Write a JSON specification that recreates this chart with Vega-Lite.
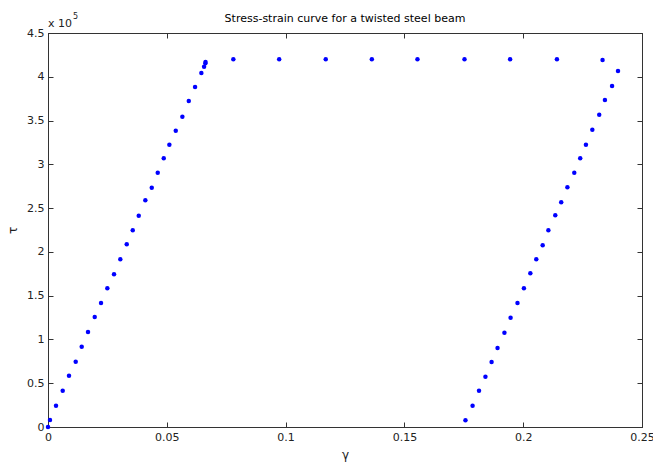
{
  "$schema": "https://vega.github.io/schema/vega-lite/v6.json",
  "width": 594,
  "height": 394,
  "autosize": {"type": "none"},
  "padding": {"left": 48, "top": 33, "right": 11, "bottom": 40},
  "background": "white",
  "config": {
    "font": "DejaVu Sans",
    "view": {"stroke": "#333333", "strokeWidth": 1},
    "axis": {"grid": false, "domainColor": "#333333", "tickColor": "#333333", "labelColor": "#222222", "titleColor": "#222222", "labelFontSize": 11, "titleFontSize": 12, "titleFontWeight": "normal", "labelFont": "DejaVu Sans", "titleFont": "DejaVu Sans"}
  },
  "title": {"text": "Stress-strain curve for a twisted steel beam", "fontSize": 11, "fontWeight": "normal", "font": "DejaVu Sans", "color": "black", "offset": -11, "anchor": "middle"},
  "data": {"values": [
    {"gamma": 0.0, "tau": 0},
    {"gamma": 0.00084, "tau": 8000},
    {"gamma": 0.00337, "tau": 24300},
    {"gamma": 0.00619, "tau": 41500},
    {"gamma": 0.00884, "tau": 58600},
    {"gamma": 0.01166, "tau": 74600},
    {"gamma": 0.01419, "tau": 91700},
    {"gamma": 0.01684, "tau": 108500},
    {"gamma": 0.01966, "tau": 125600},
    {"gamma": 0.02232, "tau": 141600},
    {"gamma": 0.02497, "tau": 158400},
    {"gamma": 0.02779, "tau": 174400},
    {"gamma": 0.03044, "tau": 191500},
    {"gamma": 0.03314, "tau": 208700},
    {"gamma": 0.03567, "tau": 224700},
    {"gamma": 0.03819, "tau": 241300},
    {"gamma": 0.04097, "tau": 258900},
    {"gamma": 0.04367, "tau": 273300},
    {"gamma": 0.04619, "tau": 290500},
    {"gamma": 0.04872, "tau": 306900},
    {"gamma": 0.05108, "tau": 322400},
    {"gamma": 0.05377, "tau": 338400},
    {"gamma": 0.05655, "tau": 354400},
    {"gamma": 0.05925, "tau": 372300},
    {"gamma": 0.0619, "tau": 388300},
    {"gamma": 0.06455, "tau": 404300},
    {"gamma": 0.06569, "tau": 411500},
    {"gamma": 0.06624, "tau": 415400},
    {"gamma": 0.0663, "tau": 417000},
    {"gamma": 0.078, "tau": 420000},
    {"gamma": 0.0973, "tau": 420000},
    {"gamma": 0.1169, "tau": 420000},
    {"gamma": 0.1363, "tau": 420000},
    {"gamma": 0.1555, "tau": 420000},
    {"gamma": 0.1753, "tau": 420000},
    {"gamma": 0.1945, "tau": 420000},
    {"gamma": 0.2142, "tau": 420000},
    {"gamma": 0.2334, "tau": 419100},
    {"gamma": 0.2399, "tau": 406600},
    {"gamma": 0.2374, "tau": 389500},
    {"gamma": 0.2344, "tau": 373500},
    {"gamma": 0.232, "tau": 356700},
    {"gamma": 0.2291, "tau": 339600},
    {"gamma": 0.2264, "tau": 322400},
    {"gamma": 0.224, "tau": 306900},
    {"gamma": 0.2215, "tau": 290500},
    {"gamma": 0.2186, "tau": 273800},
    {"gamma": 0.216, "tau": 256600},
    {"gamma": 0.2135, "tau": 241800},
    {"gamma": 0.2106, "tau": 224700},
    {"gamma": 0.2082, "tau": 207500},
    {"gamma": 0.2055, "tau": 191500},
    {"gamma": 0.203, "tau": 175500},
    {"gamma": 0.2003, "tau": 158400},
    {"gamma": 0.1976, "tau": 141600},
    {"gamma": 0.1947, "tau": 124800},
    {"gamma": 0.1921, "tau": 107700},
    {"gamma": 0.1892, "tau": 90200},
    {"gamma": 0.1867, "tau": 74200},
    {"gamma": 0.1841, "tau": 57400},
    {"gamma": 0.1814, "tau": 41500},
    {"gamma": 0.1787, "tau": 24300},
    {"gamma": 0.1757, "tau": 7600}
  ]},
  "layer": [
    {
      "mark": {"type": "point", "filled": true, "shape": "circle", "size": 20, "color": "#0000FF", "opacity": 1},
      "encoding": {
        "x": {"field": "gamma", "type": "quantitative", "scale": {"domain": [0, 0.25], "nice": false, "zero": false},
              "axis": {"orient": "bottom", "values": [0, 0.05, 0.1, 0.15, 0.2, 0.25], "format": "~g", "tickSize": -5, "labelPadding": 9, "title": "γ", "titlePadding": 7, "labelFlush": false}},
        "y": {"field": "tau", "type": "quantitative", "scale": {"domain": [0, 450000], "nice": false, "zero": false},
              "axis": {"orient": "left", "values": [0, 50000, 100000, 150000, 200000, 250000, 300000, 350000, 400000, 450000], "labelExpr": "format(datum.value/100000, '~g')", "tickSize": -5, "labelPadding": 9, "title": "τ", "titlePadding": 7, "labelFlush": false}}
      }
    },
    {
      "mark": {"type": "point", "opacity": 0},
      "encoding": {
        "x": {"field": "gamma", "type": "quantitative", "scale": {"domain": [0, 0.25], "nice": false, "zero": false},
              "axis": {"orient": "top", "values": [0, 0.05, 0.1, 0.15, 0.2, 0.25], "labels": false, "tickSize": -5, "title": null}},
        "y": {"field": "tau", "type": "quantitative", "scale": {"domain": [0, 450000], "nice": false, "zero": false},
              "axis": {"orient": "right", "values": [0, 50000, 100000, 150000, 200000, 250000, 300000, 350000, 400000, 450000], "labels": false, "tickSize": -5, "title": null}}
      }
    },
    {
      "data": {"values": [{"label": "x 10"}]},
      "mark": {"type": "text", "align": "left", "baseline": "alphabetic", "dy": -6, "fontSize": 11, "font": "DejaVu Sans", "color": "#222222"},
      "encoding": {"x": {"datum": 0, "type": "quantitative", "axis": null}, "y": {"datum": 450000, "type": "quantitative", "axis": null}, "text": {"field": "label"}}
    },
    {
      "data": {"values": [{"label": "5"}]},
      "mark": {"type": "text", "align": "left", "baseline": "alphabetic", "dx": 25, "dy": -14, "fontSize": 8, "font": "DejaVu Sans", "color": "#222222"},
      "encoding": {"x": {"datum": 0, "type": "quantitative", "axis": null}, "y": {"datum": 450000, "type": "quantitative", "axis": null}, "text": {"field": "label"}}
    }
  ],
  "resolve": {"axis": {"x": "independent", "y": "independent"}}
}
